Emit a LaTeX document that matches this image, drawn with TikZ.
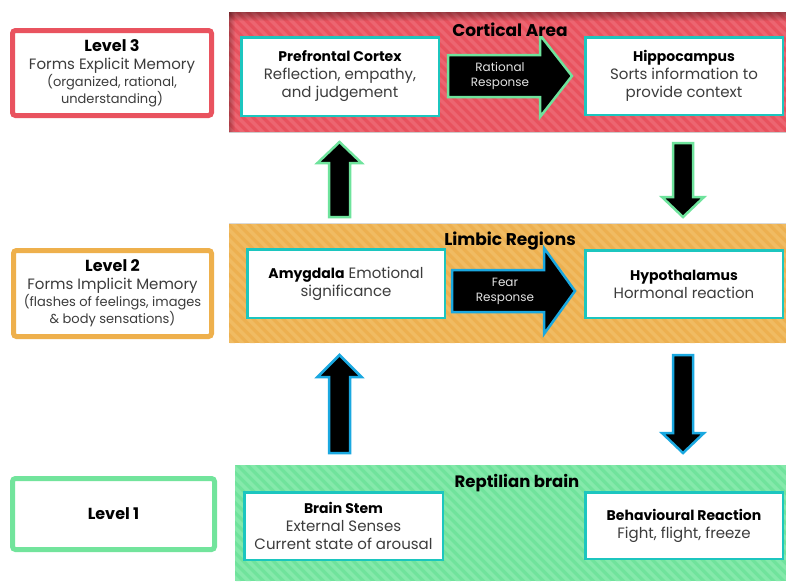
\documentclass[tikz,border=0pt]{standalone}
\usepackage{fontspec}
\setmainfont{Poppins}
\definecolor{redband}{HTML}{E8525E}
\definecolor{redstripe}{HTML}{EC6571}
\definecolor{orband}{HTML}{EDB050}
\definecolor{orstripe}{HTML}{F0BB62}
\definecolor{grband}{HTML}{70E39C}
\definecolor{grstripe}{HTML}{85E9AB}
\definecolor{lvlred}{HTML}{E9535F}
\definecolor{lvlor}{HTML}{EEB04C}
\definecolor{lvlgr}{HTML}{72E49C}
\definecolor{boxteal}{HTML}{1CC6BF}
\definecolor{arrgreen}{HTML}{6EE39C}
\definecolor{arrblue}{HTML}{1AA8E0}
\definecolor{bodygray}{HTML}{3C3C3C}
\definecolor{arrtext}{HTML}{E2E2E2}

% striped background band: x1, y1, x2, y2, base colour, stripe colour
\newcommand{\stripedband}[6]{%
  \fill[#5] (#1,#2) rectangle (#3,#4);
  \begin{scope}
    \clip (#1,#2) rectangle (#3,#4);
    \foreach \s in {-160,-150,...,800}
      \fill[#6] (\s,#2) -- ++(5,0) -- ++(#4-#2,#4-#2) -- ++(-5,0) -- cycle;
  \end{scope}}

% horizontal block arrow: tail x, tip x, centre y, shaft half, head half, head length, outline
\newcommand{\hblock}[7]{%
  \filldraw[blockarrow, draw=#7]
    (#1,#3-#4) -- (#2-#6,#3-#4) -- (#2-#6,#3-#5) -- (#2,#3)
    -- (#2-#6,#3+#5) -- (#2-#6,#3+#4) -- (#1,#3+#4) -- cycle;}
% vertical block arrow: centre x, tail y, tip y, shaft half, head half, head length (signed), outline
\newcommand{\vblock}[7]{%
  \filldraw[blockarrow, draw=#7]
    (#1-#4,#2) -- (#1-#4,#3-#6) -- (#1-#5,#3-#6) -- (#1,#3)
    -- (#1+#5,#3-#6) -- (#1+#4,#3-#6) -- (#1+#4,#2) -- cycle;}

\newcommand{\ttl}[1]{{\fontsize{14}{17.5}\selectfont\bfseries\color{black}#1}}
\newcommand{\lvltitle}[1]{{\fontsize{16}{19}\selectfont\bfseries\color{black}#1}}
\newcommand{\lvlnote}[1]{{\fontsize{13}{16.5}\selectfont #1}}

\begin{document}
\begin{tikzpicture}[x=1pt, y=-1pt,
  levelbox/.style={draw=#1, line width=5pt, rounded corners=3pt, fill=white,
    align=center, inner sep=0pt, font=\fontsize{15}{17}\selectfont, text=bodygray},
  areabox/.style={draw=boxteal, line width=2.5pt, fill=white, align=center,
    inner sep=0pt, font=\fontsize{15}{18}\selectfont, text=bodygray},
  heading/.style={font=\fontsize{17}{20}\selectfont\bfseries, text=black, inner sep=0pt},
  arrowlabel/.style={font=\fontsize{12}{15}\selectfont, text=arrtext, align=center, inner sep=0pt},
  blockarrow/.style={fill=black, line width=2.5pt, line join=miter}]
\useasboundingbox (0,0) rectangle (786,581);
\fill[white] (0,0) rectangle (786,581);

% coloured regions
\stripedband{229}{12}{786}{132}{redband}{redstripe}
\foreach \k in {1,...,9}
  \fill[black, opacity=0.045] (229,12) rectangle (786,12+\k);
\foreach \k in {1,...,6}
  \fill[black, opacity=0.045] (229,12) rectangle (229+\k,132);
\draw[black!20, line width=0.8pt] (229,132.4) -- (786,132.4);
\stripedband{229}{223}{786}{343}{orband}{orstripe}
\draw[black!15, line width=0.8pt] (229,223) -- (786,223);
\stripedband{235}{465}{786}{581}{grband}{grstripe}

% level boxes
\node[levelbox=lvlred, minimum width=199, minimum height=85] (l3) at (112,73)
  {\lvltitle{Level 3}\\[1pt] Forms Explicit Memory\\
   \lvlnote{(organized, rational,}\\ \lvlnote{understanding)}};
\node[levelbox=lvlor, minimum width=198, minimum height=86] (l2) at (112.5,293.5)
  {\lvltitle{Level 2}\\[1pt] Forms Implicit Memory\\
   \lvlnote{(flashes of feelings, images}\\ \lvlnote{\& body sensations)}};
\node[levelbox=lvlgr, minimum width=202, minimum height=71] (l1) at (113.5,514)
  {\lvltitle{Level 1}};

% structures
\node[areabox, minimum width=197.5, minimum height=78.5] (pfc) at (340,76.5)
  {\ttl{Prefrontal Cortex}\\ Reflection, empathy,\\ and judgement};
\node[areabox, minimum width=197.5, minimum height=77.5] (hip) at (684,76)
  {\ttl{Hippocampus}\\ Sorts information to\\ provide context};
\node[areabox, minimum width=197.5, minimum height=68.5] (amy) at (346,283.5)
  {\ttl{Amygdala} Emotional\\ significance};
\node[areabox, minimum width=197.5, minimum height=67.5] (hyp) at (684,284)
  {\ttl{Hypothalamus}\\ Hormonal reaction};
\node[areabox, minimum width=198.5, minimum height=67.5] (bs) at (343.5,526)
  {\ttl{Brain Stem}\\ External Senses\\ Current state of arousal};
\node[areabox, minimum width=197.5, minimum height=66.5] (beh) at (684,525.5)
  {\ttl{Behavioural Reaction}\\ Fight, flight, freeze};

% block arrows
\hblock{448}{572}{76}{21}{41}{32}{arrgreen}
\node[arrowlabel] (rr) at (500,76) {Rational\\ Response};
\hblock{452}{575}{291}{21}{43}{31}{arrblue}
\node[arrowlabel] (fr) at (505,291) {Fear\\ Response};
\vblock{339.5}{217}{142}{10.5}{22}{-21}{arrgreen}
\vblock{683}{143}{217}{10}{21}{20}{arrgreen}
\vblock{339.5}{453}{355}{10.5}{22}{-22}{arrblue}
\vblock{683}{355}{453}{10}{21}{20}{arrblue}

% region headings
\node[heading] (cort) at (510,30) {Cortical Area};
\node[heading] (limb) at (510,241) {Limbic Regions};
\node[heading, font=\fontsize{16.5}{20}\selectfont\bfseries] (rept) at (517,483) {Reptilian brain};
\end{tikzpicture}
\end{document}
